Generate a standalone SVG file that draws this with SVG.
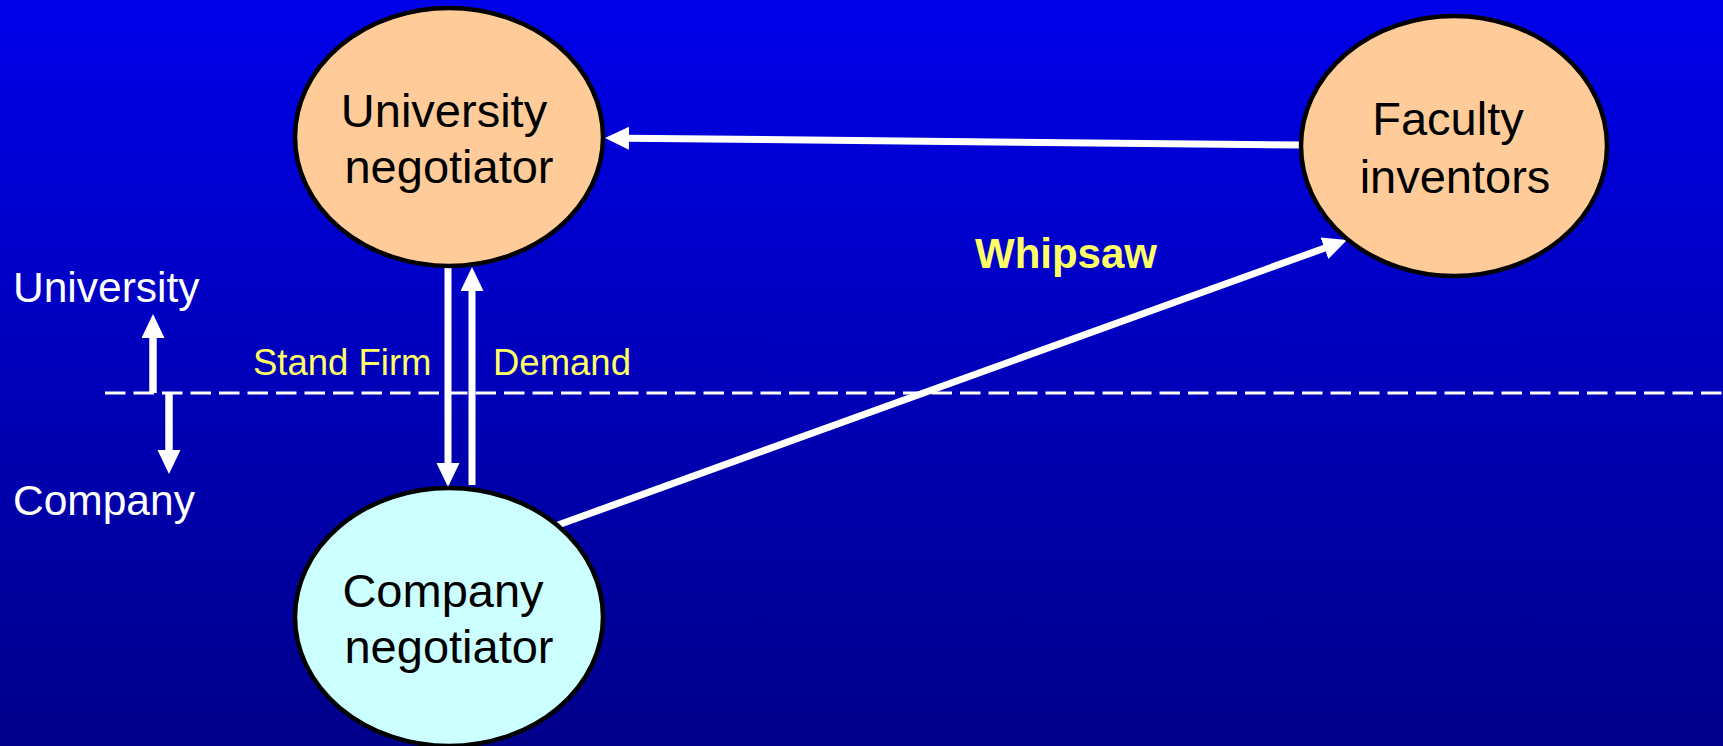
<svg xmlns="http://www.w3.org/2000/svg" width="1723" height="746" viewBox="0 0 1723 746">
  <defs>
    <linearGradient id="bg" x1="0" y1="0" x2="0" y2="1">
      <stop offset="0" stop-color="#0000EA"/>
      <stop offset="1" stop-color="#00008A"/>
    </linearGradient>
    <marker id="head" markerUnits="userSpaceOnUse" markerWidth="26" markerHeight="24" refX="2" refY="11.5" orient="auto">
      <path d="M0,0 L24,11.5 L0,23 z" fill="#FFFFFF"/>
    </marker>
    <style>
      .node { stroke: #000000; stroke-width: 4.5; }
      .peach { fill: #FFCC99; }
      .cyan { fill: #CCFFFF; }
      .ntext { font-family: "Liberation Sans", Arial, sans-serif; font-size: 47px; fill: #000000; text-anchor: middle; }
      .side { font-family: "Liberation Sans", Arial, sans-serif; font-size: 42.5px; fill: #FFFFFF; }
      .lbl { font-family: "Liberation Sans", Arial, sans-serif; font-size: 36.5px; fill: #FFFF66; }
      .bold { font-family: "Liberation Sans", Arial, sans-serif; font-size: 42px; font-weight: bold; fill: #FFFF66; }
      .arrow { stroke: #FFFFFF; stroke-width: 7; fill: none; marker-end: url(#head); }
      .divider { stroke: #FFFFFF; stroke-width: 3; stroke-dasharray: 20.5 8; fill: none; }
    </style>
  </defs>

  <!-- background -->
  <rect x="0" y="0" width="1723" height="746" fill="url(#bg)"/>

  <!-- university / company divide -->
  <g id="divider">
    <line class="divider" x1="105" y1="393" x2="1723" y2="393"/>
    <text class="side" x="13" y="302">University</text>
    <text class="side" x="13" y="515">Company</text>
  </g>

  <!-- connectors -->
  <g id="connectors">
    <line class="arrow" x1="153" y1="393" x2="153" y2="336" style="stroke-width:7.5"/>
    <line class="arrow" x1="169" y1="393" x2="169" y2="452" style="stroke-width:7.5"/>
    <line class="arrow" x1="1300" y1="145" x2="627" y2="138.2"/>
    <line class="arrow" x1="448" y1="268" x2="448" y2="465"/>
    <line class="arrow" x1="472" y1="485" x2="472" y2="289"/>
    <line class="arrow" x1="558" y1="525" x2="1326.3" y2="247.5"/>
    <text class="lbl" x="253" y="375">Stand Firm</text>
    <text class="lbl" x="493" y="375">Demand</text>
    <text class="bold" x="975" y="268">Whipsaw</text>
  </g>

  <!-- nodes -->
  <g id="university-negotiator">
    <ellipse class="node peach" cx="449" cy="137" rx="154" ry="129"/>
    <text class="ntext" x="444" y="127">University</text>
    <text class="ntext" x="449" y="183">negotiator</text>
  </g>

  <g id="faculty-inventors">
    <ellipse class="node peach" cx="1454" cy="146" rx="153" ry="130"/>
    <text class="ntext" x="1448" y="135">Faculty</text>
    <text class="ntext" x="1455" y="193">inventors</text>
  </g>

  <g id="company-negotiator">
    <ellipse class="node cyan" cx="449" cy="617" rx="154" ry="129"/>
    <text class="ntext" x="443" y="607">Company</text>
    <text class="ntext" x="449" y="663">negotiator</text>
  </g>
</svg>
